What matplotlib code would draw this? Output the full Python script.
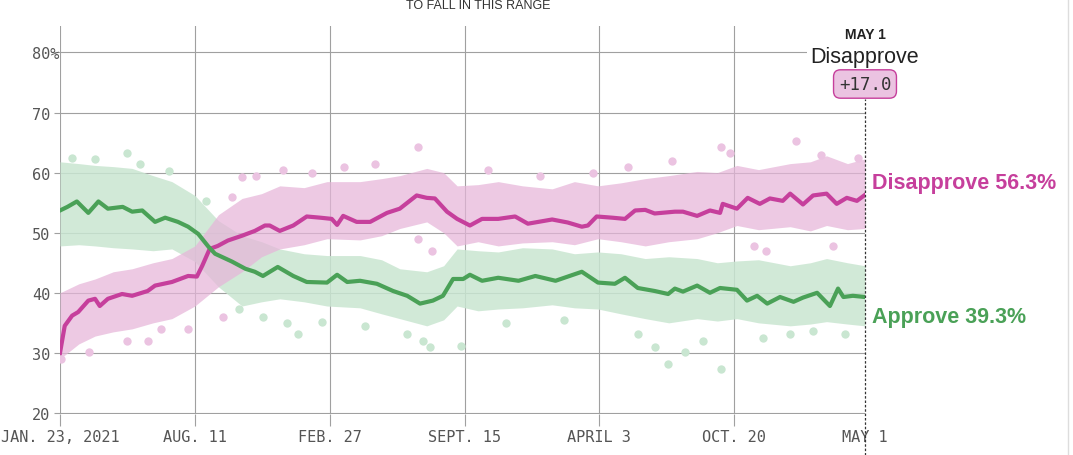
import pandas as pd
import matplotlib.pyplot as plt
import matplotlib.transforms as mtransforms

# average lines
disapprove_dates = ['2021-01-23', '2021-01-30', '2021-02-10', '2021-02-19', '2021-03-06', '2021-03-16',
                    '2021-03-23', '2021-04-04', '2021-04-25', '2021-05-10', '2021-06-02', '2021-06-13',
                    '2021-07-08', '2021-08-01', '2021-08-14', '2021-08-22', '2021-09-02', '2021-09-14',
                    '2021-09-29', '2021-10-20', '2021-11-08', '2021-11-23', '2021-11-30', '2021-12-15',
                    '2022-01-04', '2022-01-24', '2022-02-13', '2022-03-02', '2022-03-10', '2022-03-19',
                    '2022-04-08', '2022-04-28', '2022-05-23', '2022-06-11', '2022-07-06', '2022-07-21',
                    '2022-08-02', '2022-08-20', '2022-09-04', '2022-09-23', '2022-10-11', '2022-11-04',
                    '2022-11-29', '2022-12-18', '2023-01-23', '2023-02-15', '2023-03-08', '2023-03-17',
                    '2023-03-30', '2023-04-22', '2023-05-11', '2023-05-26', '2023-06-10', '2023-06-24',
                    '2023-07-24', '2023-08-05', '2023-08-26', '2023-09-14', '2023-09-29', '2023-10-03',
                    '2023-10-24', '2023-11-09', '2023-11-27', '2023-12-12', '2023-12-31', '2024-01-11',
                    '2024-01-30', '2024-02-14', '2024-03-05', '2024-03-20', '2024-04-04', '2024-04-19',
                    '2024-05-01']
disapprove_avg = [30.0, 34.5, 36.2, 36.8, 38.7, 39.0,
                  37.8, 39.0, 39.8, 39.5, 40.3, 41.2,
                  41.8, 42.8, 42.7, 44.5, 47.3, 47.8,
                  48.7, 49.5, 50.3, 51.2, 51.2, 50.3,
                  51.2, 52.7, 52.5, 52.3, 51.3, 52.8,
                  51.8, 51.8, 53.3, 54.0, 56.2, 55.8,
                  55.7, 53.5, 52.3, 51.2, 52.3, 52.3,
                  52.7, 51.5, 52.2, 51.7, 51.0, 51.2,
                  52.7, 52.5, 52.3, 53.7, 53.8, 53.2,
                  53.5, 53.5, 52.8, 53.7, 53.3, 54.8,
                  54.0, 55.8, 54.8, 55.7, 55.3, 56.5,
                  54.7, 56.2, 56.5, 54.8, 55.8, 55.3,
                  56.3]

approve_dates = ['2021-01-23', '2021-02-03', '2021-02-17', '2021-03-06', '2021-03-21', '2021-04-04',
                 '2021-04-26', '2021-05-10', '2021-05-25', '2021-06-13', '2021-06-28', '2021-07-17',
                 '2021-08-01', '2021-08-16', '2021-08-31', '2021-09-10', '2021-10-05', '2021-10-25',
                 '2021-11-08', '2021-11-20', '2021-12-12', '2022-01-04', '2022-01-24', '2022-02-23',
                 '2022-03-10', '2022-03-25', '2022-04-13', '2022-05-08', '2022-06-01', '2022-06-22',
                 '2022-07-11', '2022-07-30', '2022-08-14', '2022-08-29', '2022-09-13', '2022-09-23',
                 '2022-10-11', '2022-11-04', '2022-12-04', '2022-12-29', '2023-01-28', '2023-03-08',
                 '2023-04-01', '2023-04-26', '2023-05-11', '2023-05-30', '2023-06-24', '2023-07-14',
                 '2023-07-24', '2023-08-05', '2023-08-26', '2023-09-14', '2023-09-29', '2023-10-24',
                 '2023-11-08', '2023-11-23', '2023-12-08', '2023-12-27', '2024-01-16', '2024-01-30',
                 '2024-02-20', '2024-03-10', '2024-03-22', '2024-03-30', '2024-04-13', '2024-05-01']
approve_avg = [53.7, 54.3, 55.2, 53.3, 55.2, 54.0,
               54.3, 53.5, 53.7, 51.8, 52.5, 51.8,
               51.0, 49.8, 47.7, 46.5, 45.2, 44.0,
               43.5, 42.8, 44.3, 42.8, 41.8, 41.7,
               43.0, 41.8, 42.0, 41.5, 40.3, 39.5,
               38.2, 38.7, 39.5, 42.3, 42.3, 43.0,
               42.0, 42.5, 42.0, 42.8, 42.0, 43.5,
               41.7, 41.5, 42.5, 40.8, 40.3, 39.8,
               40.7, 40.2, 41.2, 40.0, 40.8, 40.5,
               38.7, 39.5, 38.2, 39.3, 38.5, 39.2,
               40.0, 37.8, 40.7, 39.3, 39.5, 39.3]

# extent of the dense cloud of polls
cloud_dates = ['2021-01-23', '2021-02-20', '2021-03-16', '2021-04-12', '2021-05-10', '2021-06-10',
               '2021-07-08', '2021-08-11', '2021-09-15', '2021-10-20', '2021-11-18', '2021-12-15',
               '2022-01-20', '2022-02-23', '2022-04-13', '2022-05-15', '2022-06-11', '2022-07-21',
               '2022-08-15', '2022-09-04', '2022-10-05', '2022-11-04', '2022-12-10', '2023-01-23',
               '2023-02-25', '2023-04-01', '2023-05-05', '2023-06-10', '2023-07-15', '2023-08-26',
               '2023-09-25', '2023-10-24', '2023-11-25', '2024-01-11', '2024-02-10', '2024-03-05',
               '2024-04-05', '2024-05-01']
disapprove_hi = [40.0, 41.5, 42.3, 43.5, 44.0, 45.0, 45.7, 47.8, 53.0, 55.7, 56.5, 57.8,
                 57.5, 58.5, 58.5, 59.0, 59.5, 60.7, 60.0, 57.8, 58.0, 58.5, 57.8, 57.3,
                 58.5, 57.8, 58.3, 59.0, 59.5, 60.2, 60.0, 61.2, 60.5, 61.5, 61.8, 62.8,
                 61.5, 62.3]
disapprove_lo = [29.0, 31.5, 32.8, 33.5, 34.0, 35.0, 35.7, 37.8, 41.0, 43.5, 46.0, 47.3,
                 48.0, 49.0, 48.8, 49.5, 50.7, 51.8, 50.0, 47.8, 48.5, 47.8, 48.3, 48.5,
                 48.0, 49.0, 48.5, 47.8, 48.5, 49.0, 50.0, 51.2, 50.5, 51.0, 50.3, 51.2,
                 50.5, 50.7]
approve_hi = [61.8, 61.5, 61.2, 61.0, 60.7, 59.5, 58.5, 56.2, 52.0, 49.5, 48.5, 47.3,
              46.5, 46.2, 46.2, 45.5, 44.0, 43.5, 44.5, 47.3, 47.0, 46.8, 47.5, 47.3,
              46.5, 46.8, 46.5, 45.7, 46.0, 45.7, 45.0, 45.3, 45.5, 44.5, 45.0, 45.7,
              45.0, 44.5]
approve_lo = [47.8, 48.0, 47.8, 47.5, 47.3, 47.0, 47.3, 45.2, 41.0, 37.8, 38.5, 39.0,
              38.5, 37.8, 37.5, 36.5, 35.7, 34.5, 35.5, 37.8, 37.0, 37.3, 37.5, 38.0,
              37.5, 37.3, 36.5, 35.7, 35.0, 35.7, 35.3, 35.7, 35.0, 34.5, 34.8, 35.2,
              34.8, 34.5]

# individual polls outside the cloud
disapprove_poll_dates = ['2021-01-25', '2021-03-07', '2021-05-03', '2021-06-02', '2021-06-22', '2021-08-01',
                         '2021-09-22', '2021-10-05', '2021-10-20', '2021-11-10', '2021-12-20', '2022-02-01',
                         '2022-03-20', '2022-05-05', '2022-07-08', '2022-07-08', '2022-07-29', '2022-10-20',
                         '2023-01-05', '2023-03-25', '2023-05-15', '2023-07-20', '2023-10-01', '2023-10-14',
                         '2023-11-18', '2023-12-06', '2024-01-19', '2024-02-25', '2024-03-14', '2024-04-20']
disapprove_polls = [29.0, 30.2, 32.0, 32.0, 34.0, 34.0,
                    36.0, 56.0, 59.2, 59.5, 60.5, 60.0,
                    61.0, 61.5, 64.3, 49.0, 47.0, 60.5,
                    59.5, 60.0, 61.0, 62.0, 64.3, 63.2,
                    47.8, 47.0, 65.2, 63.0, 47.8, 62.5]
approve_poll_dates = ['2021-02-10', '2021-03-16', '2021-05-03', '2021-05-21', '2021-07-04', '2021-08-27',
                      '2021-10-15', '2021-11-20', '2021-12-25', '2022-01-11', '2022-02-16', '2022-04-20',
                      '2022-06-22', '2022-07-16', '2022-07-26', '2022-09-10', '2022-11-15', '2023-02-10',
                      '2023-05-30', '2023-06-24', '2023-07-14', '2023-08-08', '2023-09-03', '2023-10-01',
                      '2023-12-01', '2024-01-11', '2024-02-14', '2024-04-01']
approve_polls = [62.5, 62.2, 63.2, 61.5, 60.2, 55.3,
                 37.3, 36.0, 35.0, 33.2, 35.2, 34.5,
                 33.2, 32.0, 31.0, 31.2, 35.0, 35.5,
                 33.2, 31.0, 28.2, 30.2, 32.0, 27.3,
                 32.5, 33.2, 33.7, 33.2]

tick_dates = ['2021-01-23', '2021-08-11', '2022-02-27', '2022-09-15', '2023-04-03', '2023-10-20', '2024-05-01']
tick_labels = ['JAN. 23, 2021', 'AUG. 11', 'FEB. 27', 'SEPT. 15', 'APRIL 3', 'OCT. 20', 'MAY 1']
y_ticks = [20, 30, 40, 50, 60, 70, 80]
y_labels = ['20', '30', '40', '50', '60', '70', '80%']

pink = '#c63f9c'
green = '#4aa157'
mono = ['DejaVu Sans Mono']

fig = plt.figure(figsize=(10.73, 4.56), dpi=100)
ax = fig.add_axes([60 / 1073, 41 / 456, 805 / 1073, 388 / 456])

cd = pd.to_datetime(cloud_dates)
ax.fill_between(cd, approve_lo, approve_hi, color='#c9e6d1', alpha=0.85, lw=0, zorder=2)
ax.fill_between(cd, disapprove_lo, disapprove_hi, color='#e6b5d9', alpha=0.72, lw=0, zorder=3)

ax.scatter(pd.to_datetime(approve_poll_dates), approve_polls, s=36, color='#c9e6d1', lw=0, zorder=4)
ax.scatter(pd.to_datetime(disapprove_poll_dates), disapprove_polls, s=36, color='#ebc3e1', lw=0, zorder=4)

ax.plot(pd.to_datetime(disapprove_dates), disapprove_avg, color=pink, lw=3, zorder=6, solid_joinstyle='round')
ax.plot(pd.to_datetime(approve_dates), approve_avg, color=green, lw=3, zorder=6, solid_joinstyle='round')

start = pd.Timestamp('2021-01-23')
end = pd.Timestamp('2024-05-01')
ax.set_xlim(start, end)
ax.set_ylim(19.83, 84.4)

for s in ax.spines.values():
    s.set_visible(False)

ax.set_yticks(y_ticks)
ax.set_yticklabels(y_labels, family=mono, fontsize=11, color='#555555', ha='left')
ax.tick_params(axis='y', length=4.3, width=0.8, color='#a0a0a0', pad=16)

xt = pd.to_datetime(tick_dates)
ax.set_xticks(xt)
ax.set_xticklabels(tick_labels, family=mono, fontsize=11, color='#555555')
ax.tick_params(axis='x', length=8.6, width=0.8, color='#a0a0a0', pad=2)
ax.xaxis.get_major_ticks()[-1].tick1line.set_visible(False)

ax.grid(True, color='#a0a0a0', lw=0.8, zorder=1)
ax.xaxis.get_major_ticks()[-1].gridline.set_visible(False)
ax.set_axisbelow(True)

# dashed marker for the latest day
trans = mtransforms.blended_transform_factory(ax.transData, fig.transFigure)
ax.plot([end, end], [0, 356 / 456], transform=trans, color='#333333', lw=0.9,
        ls=(0, (2, 1.5)), clip_on=False, zorder=7)

ax.text(end, 421 / 456, 'MAY 1', transform=trans, ha='center', va='center',
        fontsize=10, fontweight='bold', color='#222222', family='Liberation Sans')
ax.text(end, 399 / 456, 'Disapprove', transform=trans, ha='center', va='center',
        fontsize=15.5, color='#222222', family='Liberation Sans',
        bbox=dict(boxstyle='square,pad=0.15', fc='white', ec='none'), zorder=8)
ax.text(end, 371 / 456, '+17.0', transform=trans, ha='center', va='center',
        fontsize=12.5, color='#333333', family=mono, zorder=8,
        bbox=dict(boxstyle='round,pad=0.3,rounding_size=0.4', fc='#ebc3e1', ec=pink, lw=1))

ax.text(872 / 1073, 1 - 184 / 456, 'Disapprove 56.3%', transform=fig.transFigure, ha='left', va='center',
        fontsize=15.5, fontweight='bold', color=pink, family='Liberation Sans')
ax.text(872 / 1073, 1 - 318 / 456, 'Approve 39.3%', transform=fig.transFigure, ha='left', va='center',
        fontsize=15.5, fontweight='bold', color=green, family='Liberation Sans')

fig.text(478 / 1073, 1 - 6 / 456, 'TO FALL IN THIS RANGE', ha='center', va='center',
         fontsize=9, color='#333333', family='Liberation Sans')
fig.add_artist(plt.Line2D([1068 / 1073, 1068 / 1073], [0, 1], color='#dddddd', lw=1))

fig.savefig('out.png', dpi=100)
